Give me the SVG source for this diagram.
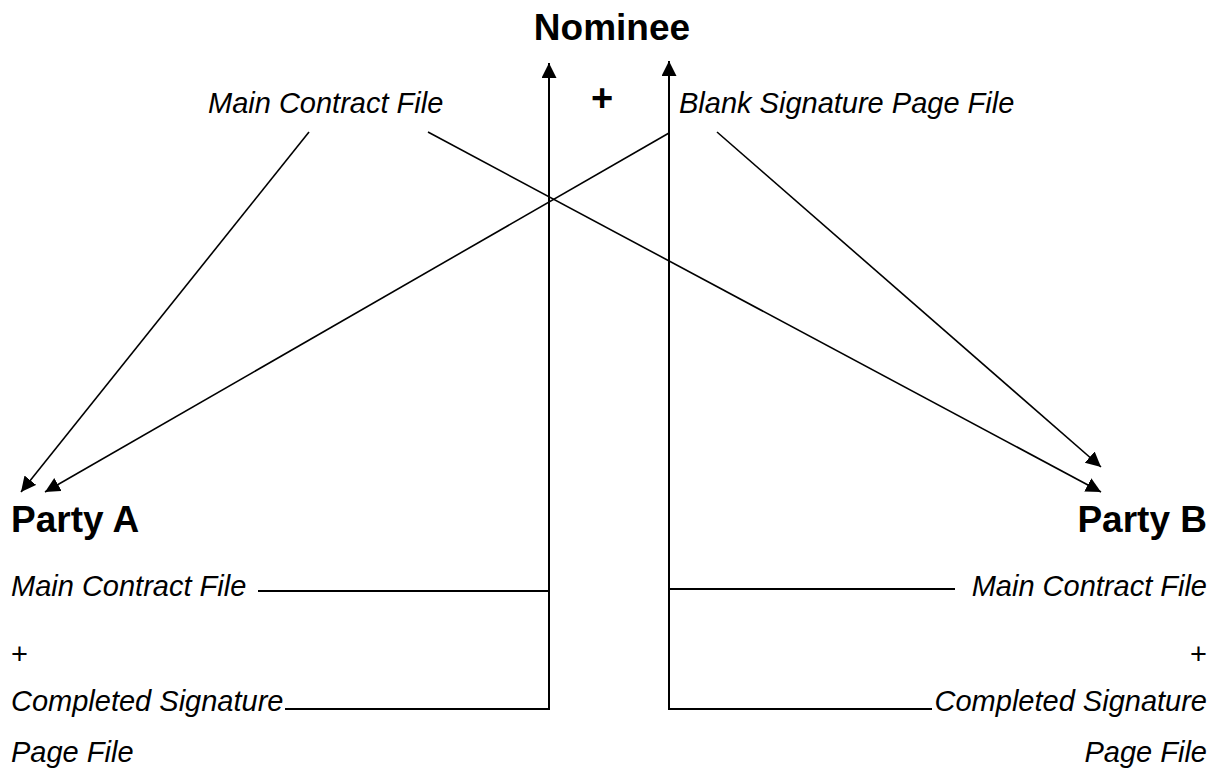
<svg xmlns="http://www.w3.org/2000/svg" width="1220" height="772" viewBox="0 0 1220 772">
  <defs>
    <marker id="arrow" markerUnits="userSpaceOnUse" markerWidth="17" markerHeight="17" refX="15" refY="7.5" orient="auto">
      <path d="M0,0 L15,7.5 L0,15 z" fill="#000"/>
    </marker>
    <style>
      .title { font-family: "Liberation Sans", Arial, sans-serif; font-weight: bold; font-size: 37px; fill: #000; }
      .file { font-family: "Liberation Sans", Arial, sans-serif; font-style: italic; font-size: 29px; fill: #000; }
      .plus { font-family: "Liberation Sans", Arial, sans-serif; font-size: 29px; fill: #000; }
      .plusb { font-family: "Liberation Sans", Arial, sans-serif; font-weight: bold; font-size: 38px; fill: #000; }
      .conn { stroke: #000; stroke-width: 1.6; fill: none; }
      .trunk { stroke: #000; stroke-width: 2; fill: none; }
    </style>
  </defs>
  <rect width="1220" height="772" fill="#fff"/>

  <g id="connectors">
    <line class="conn" x1="309" y1="132" x2="21" y2="492" marker-end="url(#arrow)"/>
    <line class="conn" x1="428" y1="132" x2="1101" y2="492" marker-end="url(#arrow)"/>
    <line class="conn" x1="669" y1="133" x2="45" y2="492" marker-end="url(#arrow)"/>
    <line class="conn" x1="717" y1="132" x2="1101" y2="467" marker-end="url(#arrow)"/>
    <path class="trunk" d="M285,709 H549 V63" marker-end="url(#arrow)"/>
    <line class="trunk" x1="258" y1="591" x2="549" y2="591"/>
    <path class="trunk" d="M932,709 H669 V61" marker-end="url(#arrow)"/>
    <line class="trunk" x1="955" y1="589" x2="669" y2="589"/>
  </g>

  <g id="nominee">
    <text class="title" x="612" y="40" text-anchor="middle">Nominee</text>
  </g>

  <g id="nominee-files">
    <text class="file" x="208" y="113">Main Contract File</text>
    <text class="plusb" x="602" y="111" text-anchor="middle">+</text>
    <text class="file" x="679" y="113">Blank Signature Page File</text>
  </g>

  <g id="party-a">
    <text class="title" x="11" y="532">Party A</text>
    <text class="file" x="11" y="596">Main Contract File</text>
    <text class="plus" x="11" y="664">+</text>
    <text class="file" x="11" y="711">Completed Signature</text>
    <text class="file" x="11" y="762">Page File</text>
  </g>

  <g id="party-b">
    <text class="title" x="1207" y="532" text-anchor="end">Party B</text>
    <text class="file" x="1207" y="596" text-anchor="end">Main Contract File</text>
    <text class="plus" x="1207" y="664" text-anchor="end">+</text>
    <text class="file" x="1207" y="711" text-anchor="end">Completed Signature</text>
    <text class="file" x="1207" y="762" text-anchor="end">Page File</text>
  </g>
</svg>
